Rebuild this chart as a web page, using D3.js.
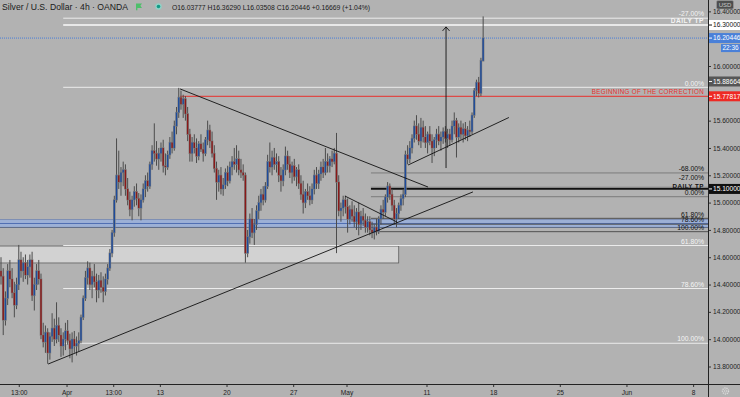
<!DOCTYPE html>
<html>
<head>
<meta charset="utf-8">
<script src="https://cdn.jsdelivr.net/npm/d3@7"></script>
<style>
  html, body { margin: 0; padding: 0; background: #b2b2b2; }
  svg { display: block; font-family: "Liberation Sans", Arial, sans-serif; }
</style>
</head>
<body>
<svg id="chart" width="740" height="397"></svg>
<script>
// 4h bars, [open, high, low, close]
const bars = [
  [14.50,14.60,14.40,14.46],[14.46,14.52,14.03,14.14],[14.14,14.35,14.10,14.30],[14.30,14.55,14.25,14.50],
  [14.50,14.58,14.38,14.44],[14.44,14.52,14.30,14.34],[14.34,14.42,14.16,14.25],[14.25,14.45,14.22,14.40],
  [14.40,14.69,14.36,14.58],[14.58,14.64,14.45,14.50],[14.50,14.60,14.42,14.56],[14.56,14.62,14.44,14.47],
  [14.47,14.58,14.40,14.53],[14.53,14.62,14.45,14.58],[14.58,14.64,14.28,14.32],[14.32,14.45,14.21,14.40],
  [14.40,14.55,14.36,14.50],[14.50,14.58,14.40,14.44],[14.44,14.48,14.00,14.03],[14.03,14.12,13.94,13.98],
  [13.98,14.10,13.90,14.05],[14.05,14.08,13.82,13.90],[13.90,14.05,13.85,14.02],[14.02,14.19,13.98,14.08],
  [14.08,14.15,13.95,14.00],[14.00,14.27,13.97,14.10],[14.10,14.16,13.98,14.03],[14.03,14.08,13.87,13.95],
  [13.95,14.05,13.88,14.00],[14.00,14.12,13.92,14.06],[14.06,14.14,13.96,13.99],[13.99,14.04,13.86,13.93],
  [13.93,14.05,13.83,14.00],[14.00,14.06,13.90,13.95],[13.95,14.02,13.88,13.97],[13.97,14.05,13.91,13.99],
  [13.99,14.18,13.97,14.16],[14.16,14.32,14.14,14.30],[14.30,14.50,14.28,14.45],[14.45,14.57,14.40,14.52],
  [14.52,14.56,14.36,14.40],[14.40,14.50,14.30,14.46],[14.46,14.55,14.38,14.42],[14.42,14.48,14.27,14.36],
  [14.36,14.47,14.30,14.43],[14.43,14.49,14.34,14.38],[14.38,14.46,14.27,14.35],[14.35,14.48,14.32,14.44],
  [14.44,14.55,14.40,14.52],[14.52,14.66,14.50,14.63],[14.63,14.80,14.60,14.78],[14.78,15.05,14.75,15.02],
  [15.02,15.47,15.00,15.20],[15.20,15.38,15.10,15.15],[15.15,15.26,15.05,15.22],[15.22,15.30,15.12,15.24],
  [15.24,15.28,15.05,15.10],[15.10,15.18,14.98,15.02],[15.02,15.08,14.90,14.95],[14.95,15.05,14.87,15.02],
  [15.02,15.12,14.97,15.08],[15.08,15.14,14.98,15.03],[15.03,15.07,14.90,14.96],[14.96,15.06,14.87,15.02],
  [15.02,15.14,15.00,15.10],[15.10,15.20,15.04,15.16],[15.16,15.22,15.08,15.12],[15.12,15.30,15.10,15.28],
  [15.28,15.42,15.24,15.38],[15.38,15.58,15.30,15.36],[15.36,15.45,15.27,15.32],[15.32,15.40,15.24,15.36],
  [15.36,15.44,15.30,15.40],[15.40,15.46,15.22,15.27],[15.27,15.36,15.20,15.26],[15.26,15.38,15.24,15.35],
  [15.35,15.48,15.32,15.44],[15.44,15.52,15.36,15.40],[15.40,15.60,15.38,15.56],[15.56,15.70,15.50,15.66],
  [15.66,15.84,15.62,15.77],[15.77,15.82,15.68,15.72],[15.72,15.79,15.62,15.76],[15.76,15.78,15.60,15.65],
  [15.65,15.70,15.45,15.50],[15.50,15.54,15.30,15.36],[15.36,15.48,15.30,15.44],[15.44,15.50,15.36,15.40],
  [15.40,15.47,15.29,15.34],[15.34,15.45,15.31,15.43],[15.43,15.50,15.37,15.39],[15.39,15.44,15.30,15.36],
  [15.36,15.48,15.34,15.46],[15.46,15.60,15.42,15.53],[15.53,15.57,15.40,15.45],[15.45,15.52,15.33,15.36],
  [15.36,15.42,15.22,15.25],[15.25,15.30,15.02,15.15],[15.15,15.24,15.08,15.20],[15.20,15.26,15.06,15.10],
  [15.10,15.18,15.05,15.13],[15.13,15.25,15.10,15.22],[15.22,15.27,15.12,15.16],[15.16,15.30,15.14,15.26],
  [15.26,15.34,15.20,15.30],[15.30,15.40,15.24,15.28],[15.28,15.42,15.22,15.32],[15.32,15.38,15.20,15.24],
  [15.24,15.32,15.18,15.22],[15.22,15.28,15.16,15.20],[15.20,15.22,14.56,14.63],[14.63,14.80,14.60,14.75],
  [14.75,14.92,14.70,14.88],[14.88,14.96,14.74,14.78],[14.78,14.88,14.69,14.84],[14.84,14.98,14.80,14.94],
  [14.94,15.05,14.88,15.00],[15.00,15.10,14.94,15.06],[15.06,15.12,14.98,15.02],[15.02,15.15,15.00,15.12],
  [15.12,15.35,15.10,15.30],[15.30,15.44,15.22,15.26],[15.26,15.38,15.20,15.33],[15.33,15.40,15.24,15.28],
  [15.28,15.36,15.22,15.30],[15.30,15.34,15.15,15.20],[15.20,15.26,15.08,15.16],[15.16,15.28,15.12,15.24],
  [15.24,15.41,15.20,15.34],[15.34,15.38,15.24,15.28],[15.28,15.34,15.18,15.22],[15.22,15.30,15.14,15.27],
  [15.27,15.32,15.16,15.19],[15.19,15.26,15.12,15.24],[15.24,15.28,15.10,15.14],[15.14,15.20,15.02,15.06],
  [15.06,15.16,14.92,15.00],[15.00,15.10,14.96,15.08],[15.08,15.14,15.02,15.05],[15.05,15.12,14.98,15.02],
  [15.02,15.14,14.99,15.10],[15.10,15.24,15.06,15.20],[15.20,15.26,15.10,15.14],[15.14,15.24,15.10,15.21],
  [15.21,15.30,15.16,15.26],[15.26,15.32,15.18,15.22],[15.22,15.40,15.20,15.30],[15.30,15.36,15.22,15.27],
  [15.27,15.34,15.22,15.32],[15.32,15.38,15.26,15.30],[15.30,15.40,15.28,15.36],[15.36,15.51,14.63,15.15],
  [15.15,15.20,14.90,14.94],[14.94,15.00,14.86,14.96],[14.96,15.05,14.90,15.02],[15.02,15.05,14.92,14.97],
  [14.97,15.03,14.78,14.88],[14.88,14.98,14.84,14.95],[14.95,15.01,14.86,14.90],[14.90,14.98,14.82,14.86],
  [14.86,14.96,14.80,14.93],[14.93,15.00,14.76,14.84],[14.84,14.94,14.80,14.90],[14.90,14.96,14.83,14.87],
  [14.87,14.92,14.78,14.82],[14.82,14.90,14.78,14.86],[14.86,14.90,14.76,14.80],[14.80,14.86,14.74,14.78],
  [14.78,14.84,14.73,14.82],[14.82,14.88,14.76,14.79],[14.79,14.90,14.77,14.88],[14.88,14.98,14.84,14.95],
  [14.95,15.02,14.88,14.93],[14.93,15.06,14.90,15.04],[15.04,15.15,15.00,15.12],[15.12,15.14,15.02,15.06],
  [15.06,15.10,14.94,14.98],[14.98,15.02,14.84,14.88],[14.88,14.96,14.82,14.92],[14.92,15.00,14.88,14.98],
  [14.98,15.06,14.94,15.03],[15.03,15.10,14.98,15.06],[15.06,15.38,15.04,15.35],[15.35,15.42,15.28,15.32],
  [15.32,15.45,15.29,15.40],[15.40,15.50,15.36,15.47],[15.47,15.60,15.44,15.56],[15.56,15.64,15.46,15.50],
  [15.50,15.58,15.42,15.45],[15.45,15.62,15.40,15.55],[15.55,15.60,15.44,15.48],[15.48,15.56,15.40,15.44],
  [15.44,15.52,15.36,15.50],[15.50,15.56,15.42,15.45],[15.45,15.50,15.29,15.40],[15.40,15.48,15.34,15.46],
  [15.46,15.54,15.40,15.50],[15.50,15.56,15.42,15.45],[15.45,15.52,15.38,15.48],[15.48,15.55,15.43,15.52],
  [15.52,15.56,15.44,15.47],[15.47,15.54,15.40,15.50],[15.50,15.54,15.42,15.46],[15.46,15.60,15.44,15.56],
  [15.56,15.66,15.50,15.60],[15.60,15.62,15.33,15.48],[15.48,15.58,15.44,15.55],[15.55,15.60,15.46,15.50],
  [15.50,15.58,15.44,15.54],[15.54,15.59,15.46,15.49],[15.49,15.56,15.45,15.53],[15.53,15.60,15.48,15.52],
  [15.52,15.66,15.50,15.64],[15.64,15.84,15.62,15.82],[15.82,15.90,15.78,15.88],[15.88,15.92,15.77,15.80],
  [15.80,16.06,15.78,16.04],[16.03777,16.3629,16.03508,16.20446]
];

const priceTicks = [13.8, 14.0, 14.2, 14.4, 14.6, 14.8, 15.0, 15.2, 15.4, 15.6, 15.8, 16.0, 16.2, 16.4];
const timeTickBars = [8, 29.5, 50.5, 71.5, 101.5, 131.5, 155.5, 191.5, 221.5, 251.5, 281.5, 311.5];
const timeTickLabels = ["13:00", "Apr", "13:00", "13", "20", "27", "May", "11", "18", "25", "Jun", "8"];

// fib retracement #1 (big swing) and #2 (small swing)
const fib1Start = 28, fib1High = 15.844, fib1Low = 13.97;
const fib1Levels = [-0.27, 0, 0.618, 0.786, 1];
const fib2Start = 166.5, fib2High = 15.043, fib2Low = 14.787;
const fib2Levels = [-0.68, -0.27, 0, 0.618, 0.786, 1];

// trend lines: [bar, price, bar, price]
const trendLines = [
  [21.2, 13.818, 212.4, 15.078],
  [80.6, 15.832, 192.2, 15.114],
  [154.8, 15.048, 178.2, 14.858],
  [183.2, 15.275, 228.6, 15.623]
];
const arrowLine = [200.3, 15.253, 16.286];

const dailyTpHigh = 16.30, dailyTpLow = 15.10;
const lastPrice = 16.20446, swingHigh = 15.88664, correctionPrice = 15.77817;
const zoneRect = [-1, 179, 14.682, 14.558];
const blueBand = [14.876, 14.818, 14.847];

const W = 740, H = 397, PLOT_R = 708, PLOT_B = 384;
const svg = d3.select("#chart");

const x = d3.scaleLinear().domain([0, 318.2]).range([1, PLOT_R]);
const y = d3.scaleLinear().domain([13.8, 16.0]).range([366.5, 66]);
const fmt5 = d3.format(".5f");

svg.append("rect").attr("width", W).attr("height", H).attr("fill", "#b2b2b2");

svg.append("defs").append("clipPath").attr("id", "plot")
  .append("rect").attr("width", PLOT_R).attr("height", PLOT_B);

const g = svg.append("g").attr("clip-path", "url(#plot)");

// zone + blue band behind candles
g.append("rect")
  .attr("x", x(zoneRect[0])).attr("width", x(zoneRect[1]) - x(zoneRect[0]))
  .attr("y", y(zoneRect[2])).attr("height", y(zoneRect[3]) - y(zoneRect[2]))
  .attr("fill", "#d2d2d2").attr("stroke", "#5e5e5e").attr("stroke-width", 0.8);

g.append("rect")
  .attr("x", 0).attr("width", PLOT_R)
  .attr("y", y(blueBand[0])).attr("height", y(blueBand[1]) - y(blueBand[0]))
  .attr("fill", "#9cb0d6");
g.append("line").attr("x1", 0).attr("x2", PLOT_R)
  .attr("y1", y(blueBand[0])).attr("y2", y(blueBand[0])).attr("stroke", "#7d8fb4");
g.append("line").attr("x1", 0).attr("x2", PLOT_R)
  .attr("y1", y(blueBand[2])).attr("y2", y(blueBand[2])).attr("stroke", "#4f6fb3");
g.append("line").attr("x1", 0).attr("x2", PLOT_R)
  .attr("y1", y(blueBand[1])).attr("y2", y(blueBand[1])).attr("stroke", "#5d6a85");

function pct(v) { return (v * 100).toFixed(2) + "%"; }

function drawFib(start, hi, lo, levels, lineColor, textColor, lift) {
  const rows = levels.map(l => ({ l, p: hi - l * (hi - lo) }));
  g.selectAll(null).data(rows).join("line")
    .attr("x1", x(start)).attr("x2", PLOT_R)
    .attr("y1", d => y(d.p)).attr("y2", d => y(d.p))
    .attr("stroke", typeof lineColor === "function" ? lineColor : () => lineColor)
    .attr("stroke-width", 1);
  g.selectAll(null).data(rows).join("text")
    .attr("x", 704).attr("y", d => y(d.p) - 1.8 - (lift ? lift(d) : 0))
    .attr("text-anchor", "end").attr("font-size", 6.8)
    .attr("fill", textColor).text(d => pct(d.l));
}

drawFib(fib1Start, fib1High, fib1Low, fib1Levels, "#ececec", "#f4f4f4");
// the -27% label of the small fib sits just above the DAILY TP tag
drawFib(fib2Start, fib2High, fib2Low, fib2Levels,
  d => (d.l > 0.5 ? "#505050" : "#7c7c7c"), "#111", d => (d.l === -0.27 ? 5.8 : 0));

// horizontal annotation lines
g.append("line").attr("x1", x(fib1Start)).attr("x2", PLOT_R)
  .attr("y1", y(dailyTpHigh)).attr("y2", y(dailyTpHigh))
  .attr("stroke", "#fafafa").attr("stroke-width", 1.6);
g.append("text").attr("x", 704).attr("y", y(dailyTpHigh) - 1.8)
  .attr("text-anchor", "end").attr("font-size", 6.6).attr("font-weight", "bold")
  .attr("letter-spacing", 0.5).attr("fill", "#f4f4f4").text("DAILY TP");

g.append("line").attr("x1", x(fib2Start)).attr("x2", PLOT_R)
  .attr("y1", y(dailyTpLow)).attr("y2", y(dailyTpLow))
  .attr("stroke", "#111").attr("stroke-width", 1.8);
g.append("text").attr("x", 704).attr("y", y(dailyTpLow) - 1.4)
  .attr("text-anchor", "end").attr("font-size", 6.2).attr("font-weight", "bold")
  .attr("letter-spacing", 0.5).attr("fill", "#111").text("DAILY TP");

g.append("line").attr("x1", x(80.6)).attr("x2", PLOT_R)
  .attr("y1", y(correctionPrice)).attr("y2", y(correctionPrice))
  .attr("stroke", "#e8302c").attr("stroke-width", 1);
g.append("text").attr("x", 704).attr("y", y(correctionPrice) - 2)
  .attr("text-anchor", "end").attr("font-size", 6.3).attr("letter-spacing", 0.3)
  .attr("fill", "#e8302c").text("BEGINNING OF THE CORRECTION");

g.append("line").attr("x1", 0).attr("x2", PLOT_R)
  .attr("y1", y(lastPrice)).attr("y2", y(lastPrice))
  .attr("stroke", "#4a7fd8").attr("stroke-dasharray", "1,1");

// candles
const candle = g.append("g");
candle.selectAll("line").data(bars).join("line")
  .attr("x1", (d, i) => x(i)).attr("x2", (d, i) => x(i))
  .attr("y1", d => y(d[1])).attr("y2", d => y(d[2]))
  .attr("stroke", "#4c4c4c").attr("stroke-width", 1);
candle.selectAll("rect.halo").data(bars).join("rect").attr("class", "halo")
  .attr("x", (d, i) => x(i) - 1.25).attr("width", 2.5)
  .attr("y", d => y(Math.max(d[0], d[3])) - 0.6)
  .attr("height", d => Math.abs(y(d[0]) - y(d[3])) + 1.2)
  .attr("fill", "#7c7c7c");
candle.selectAll("rect.body").data(bars).join("rect").attr("class", "body")
  .attr("x", (d, i) => x(i) - 0.7).attr("width", 1.4)
  .attr("y", d => y(Math.max(d[0], d[3])))
  .attr("height", d => Math.max(0.6, Math.abs(y(d[0]) - y(d[3]))))
  .attr("fill", d => d[3] >= d[0] ? "#1d4b9c" : "#8a1818");

// trend lines + arrow
g.selectAll(null).data(trendLines).join("line")
  .attr("x1", d => x(d[0])).attr("y1", d => y(d[1]))
  .attr("x2", d => x(d[2])).attr("y2", d => y(d[3]))
  .attr("stroke", "#111").attr("stroke-width", 0.9);

const ax = x(arrowLine[0]), aTop = y(arrowLine[2]);
g.append("line").attr("x1", ax).attr("x2", ax)
  .attr("y1", y(arrowLine[1])).attr("y2", aTop)
  .attr("stroke", "#111").attr("stroke-width", 0.9);
g.append("path").attr("d", `M${ax - 3.5},${aTop + 4}L${ax},${aTop}L${ax + 3.5},${aTop + 4}`)
  .attr("fill", "none").attr("stroke", "#111").attr("stroke-width", 0.9);

// price badges on the right scale (tick labels under a badge are hidden, as in the reference)
const badges = [
  { p: dailyTpHigh, fill: "#ffffff", color: "#111" },
  { p: lastPrice, fill: "#4a80d8", color: "#fff" },
  { p: swingHigh, fill: "#565656", color: "#fff" },
  { p: correctionPrice, fill: "#ee2a24", color: "#fff" },
  { p: dailyTpLow, fill: "#111", color: "#fff" }
];
const visibleTicks = priceTicks.filter(t => badges.every(b => Math.abs(y(t) - y(b.p)) > 8));

// axes
const yAxis = svg.append("g").attr("transform", `translate(${PLOT_R},0)`)
  .call(d3.axisRight(y).tickValues(visibleTicks).tickSize(3).tickFormat(fmt5));
yAxis.select(".domain").remove();
yAxis.selectAll("line").attr("stroke", "#333");
yAxis.selectAll("text").attr("x", 5).attr("font-size", 6.6)
  .attr("font-family", "Liberation Sans, Arial, sans-serif").attr("fill", "#222");

const xAxis = svg.append("g").attr("transform", `translate(0,${PLOT_B})`)
  .call(d3.axisBottom(x).tickValues(timeTickBars).tickSize(3)
    .tickFormat((d, i) => timeTickLabels[i]));
xAxis.select(".domain").remove();
xAxis.selectAll("line").attr("stroke", "#333");
xAxis.selectAll("text").attr("y", 6).attr("font-size", 6.6)
  .attr("font-family", "Liberation Sans, Arial, sans-serif").attr("fill", "#222");

svg.append("line").attr("x1", 0).attr("x2", W).attr("y1", PLOT_B + 0.5).attr("y2", PLOT_B + 0.5)
  .attr("stroke", "#222");
svg.append("line").attr("x1", PLOT_R + 0.5).attr("x2", PLOT_R + 0.5).attr("y1", 0).attr("y2", H)
  .attr("stroke", "#222");

const bg = svg.append("g");
bg.selectAll("rect").data(badges).join("rect")
  .attr("x", PLOT_R + 1).attr("width", W - PLOT_R - 1)
  .attr("y", d => y(d.p) - 5).attr("height", 10).attr("fill", d => d.fill);
bg.selectAll("line").data(badges).join("line")
  .attr("x1", PLOT_R + 1).attr("x2", PLOT_R + 4)
  .attr("y1", d => y(d.p)).attr("y2", d => y(d.p)).attr("stroke", d => d.color);
bg.selectAll("text").data(badges).join("text")
  .attr("x", PLOT_R + 5).attr("y", d => y(d.p) + 2.4)
  .attr("font-size", 6.6).attr("fill", d => d.color).text(d => fmt5(d.p));

svg.append("rect").attr("x", 721).attr("y", y(lastPrice) + 6).attr("width", 19).attr("height", 8)
  .attr("fill", "#4a80d8");
svg.append("text").attr("x", 730.5).attr("y", y(lastPrice) + 12.3).attr("text-anchor", "middle")
  .attr("font-size", 6.4).attr("fill", "#fff").text("22:36");

// currency button sits over the top of the scale
svg.append("rect").attr("x", 716.5).attr("y", 0.5).attr("width", 17).attr("height", 8.5).attr("rx", 1.5)
  .attr("fill", "#4e4e4e").attr("stroke", "#9a9a9a").attr("stroke-width", 0.6);
svg.append("text").attr("x", 725).attr("y", 7.2).attr("text-anchor", "middle")
  .attr("font-size", 6).attr("fill", "#c8c8c8").text("USD");

// gear icon
svg.append("circle").attr("cx", 725.5).attr("cy", 391).attr("r", 3)
  .attr("fill", "none").attr("stroke", "#dcdcdc").attr("stroke-width", 1.4).attr("stroke-dasharray", "1.2,0.9");
svg.append("circle").attr("cx", 725.5).attr("cy", 391).attr("r", 1.2)
  .attr("fill", "#b2b2b2").attr("stroke", "#dcdcdc").attr("stroke-width", 0.6);

// header
svg.append("text").attr("x", 2).attr("y", 10).attr("font-size", 9.4).attr("fill", "#1a1a1a")
  .attr("textLength", 126).attr("lengthAdjust", "spacingAndGlyphs")
  .text("Silver / U.S. Dollar · 4h · OANDA");
svg.append("path").attr("d", "M136,3.5h6l-1.6,2.2l1.6,2.2h-4.6v2.4h-1.4z").attr("fill", "#4dbf6a");
svg.append("circle").attr("cx", 158.5).attr("cy", 6.5).attr("r", 3.2).attr("fill", "#8fd2c6");
svg.append("circle").attr("cx", 158.5).attr("cy", 6.5).attr("r", 1.8).attr("fill", "#129a86");
svg.append("text").attr("x", 172).attr("y", 9.6).attr("font-size", 7.4).attr("fill", "#1a1a1a")
  .attr("textLength", 198).attr("lengthAdjust", "spacingAndGlyphs")
  .text("O16.03777  H16.36290  L16.03508  C16.20446  +0.16669 (+1.04%)");
</script>
</body>
</html>
